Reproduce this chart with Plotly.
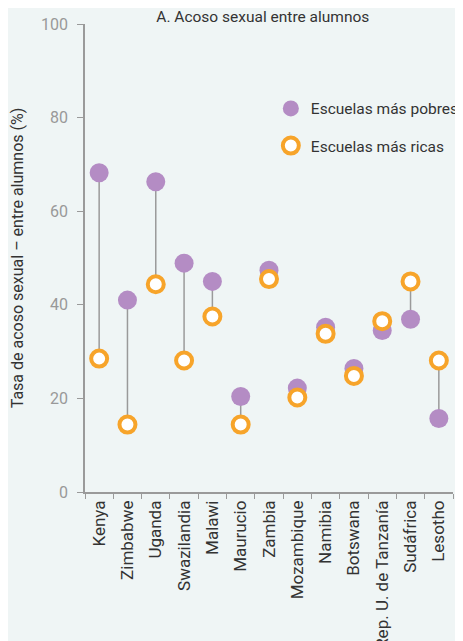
import plotly.graph_objects as go

countries = ["Kenya", "Zimbabwe", "Uganda", "Swazilandia", "Malawi", "Maurucio",
             "Zambia", "Mozambique", "Namibia", "Botswana", "Rep. U. de Tanzanía",
             "Sudáfrica", "Lesotho"]
poorest = [68.2, 41.0, 66.3, 48.9, 45.0, 20.4, 47.4, 22.2, 35.2, 26.4, 34.5, 36.9, 15.7]
richest = [28.5, 14.4, 44.4, 28.1, 37.5, 14.4, 45.5, 20.2, 33.8, 24.8, 36.5, 45.0, 28.1]

name_poor = "Escuelas más pobres"
name_rich = "Escuelas más ricas"
title = "A. Acoso sexual entre alumnos"
ytitle = "Tasa de acoso sexual – entre alumnos (%)"

FONT = "Roboto"
BG = "#eff5f5"
PURPLE = "#b48cc4"
ORANGE = "#f7a42a"

# stems
sx, sy = [], []
for c, p, r in zip(countries, poorest, richest):
    sx += [c, c, None]
    sy += [p, r, None]

fig = go.Figure()
fig.add_trace(go.Scatter(x=sx, y=sy, mode="lines", line=dict(color="#9a9a9a", width=1.5),
                         showlegend=False, hoverinfo="skip"))
fig.add_trace(go.Scatter(x=countries, y=poorest, mode="markers", name=name_poor,
                         legendgroup="a",
                         marker=dict(color=PURPLE, size=19, line=dict(width=0))))
fig.add_trace(go.Scatter(x=countries, y=richest, mode="markers", name=name_rich,
                         legendgroup="b",
                         marker=dict(color="white", size=16, line=dict(color=ORANGE, width=4))))

fig.update_layout(
    width=455, height=633,
    margin=dict(l=77, r=10, t=16, b=149, autoexpand=False),
    paper_bgcolor=BG, plot_bgcolor=BG,
    font=dict(family=FONT, size=14, color="#333333"),
    title=dict(text=title, x=0.56, xanchor="center", y=0.987, yanchor="middle",
               font=dict(family=FONT, size=15.5, color="#333333")),
    legend=dict(x=0.505, xanchor="left", y=0.855, yanchor="top", bgcolor="rgba(0,0,0,0)",
                tracegroupgap=14, font=dict(family=FONT, size=15.5, color="#333333")),
    xaxis=dict(type="category", categoryorder="array", categoryarray=countries,
               range=[-0.5, 12.5], tickson="boundaries", ticks="outside", ticklen=5,
               tickcolor="#9a9a9a", showline=True, linecolor="#9a9a9a", linewidth=1.5,
               showgrid=False, zeroline=False, tickangle=-90, automargin=False,
               tickfont=dict(family=FONT, size=17, color="#333333")),
    yaxis=dict(range=[0, 100], tickvals=[0, 20, 40, 60, 80, 100], ticks="outside",
               ticklen=6, tickcolor="#9a9a9a", showline=True, linecolor="#9a9a9a",
               linewidth=1.5, showgrid=False, zeroline=False, ticklabelstandoff=6,
               automargin=False,
               tickfont=dict(family=FONT, size=16, color="#999999"),
               title=dict(text=ytitle, standoff=14,
                          font=dict(family=FONT, size=16, color="#333333"))),
)

fig.write_html("out.html")
